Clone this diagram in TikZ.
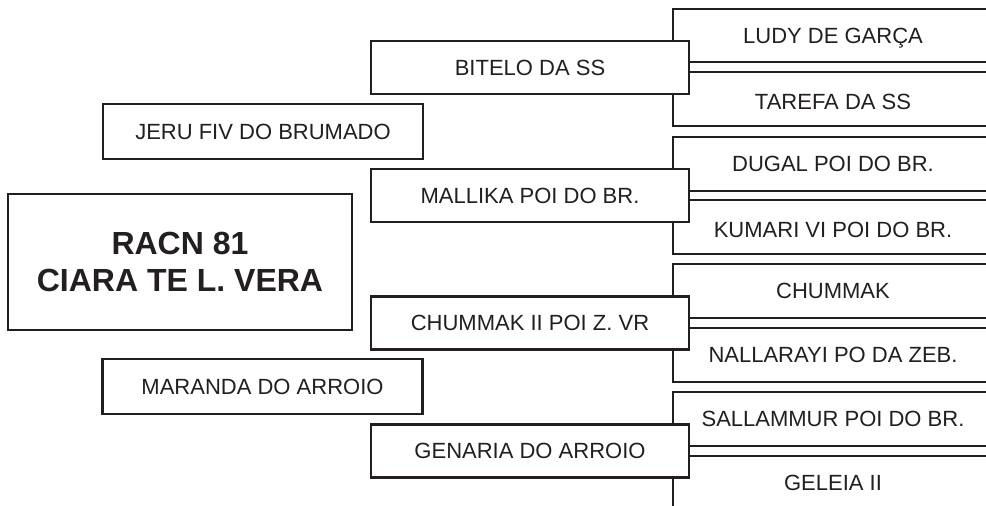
\documentclass[tikz,border=0pt]{standalone}
\usepackage{fontspec}
\setmainfont{Liberation Sans}
\definecolor{ink}{HTML}{231F20}
\begin{document}
\begin{tikzpicture}[x=1pt,y=-1pt,
  box/.style={draw=ink, line width=2.2pt, fill=white, rectangle, inner sep=0pt,
    text=ink, font=\fontsize{22}{26}\selectfont, text height=15.7pt, text depth=0pt},
  ggbox/.style={box, minimum width=320pt, minimum height=54pt},
  lowtext/.style={text height=21.7pt},
  parbox/.style={box, minimum width=318pt, minimum height=53pt},
  gpbox/.style={box, minimum width=320pt, minimum height=55pt},
  mainbox/.style={box, minimum width=344pt, minimum height=136pt, align=center,
    font=\fontsize{32}{37}\selectfont\bfseries, text height=, text depth=}
]
\useasboundingbox (0,0) rectangle (986,506);
\fill[white] (0,0) rectangle (986,506);
\begin{scope}
\clip (0,0) rectangle (986,506);
\node[ggbox, minimum height=53pt] (g1) at (833,35.5) {LUDY DE GARÇA};
\node[ggbox, lowtext] (g2) at (833,99) {TAREFA DA SS};
\node[ggbox] (g3) at (833,164) {DUGAL POI DO BR.};
\node[ggbox, lowtext] (g4) at (833,227) {KUMARI VI POI DO BR.};
\node[ggbox] (g5) at (833,291) {CHUMMAK};
\node[ggbox] (g6) at (833,355) {NALLARAYI PO DA ZEB.};
\node[ggbox] (g7) at (833,419) {SALLAMMUR POI DO BR.};
\node[ggbox] (g8) at (833,483) {GELEIA II};
\end{scope}
\node[parbox] (p1) at (530,67.5) {BITELO DA SS};
\node[parbox] (p2) at (530,195.5) {MALLIKA POI DO BR.};
\node[parbox] (p3) at (530,323) {CHUMMAK II POI Z. VR};
\node[parbox] (p4) at (530,451) {GENARIA DO ARROIO};
\node[gpbox] (gp1) at (263,131.5) {JERU FIV DO BRUMADO};
\node[gpbox] (gp2) at (262.5,386.5) {MARANDA DO ARROIO};
\node[mainbox] (m) at (180,262) {RACN 81\\CIARA TE L. VERA};
\end{tikzpicture}
\end{document}
